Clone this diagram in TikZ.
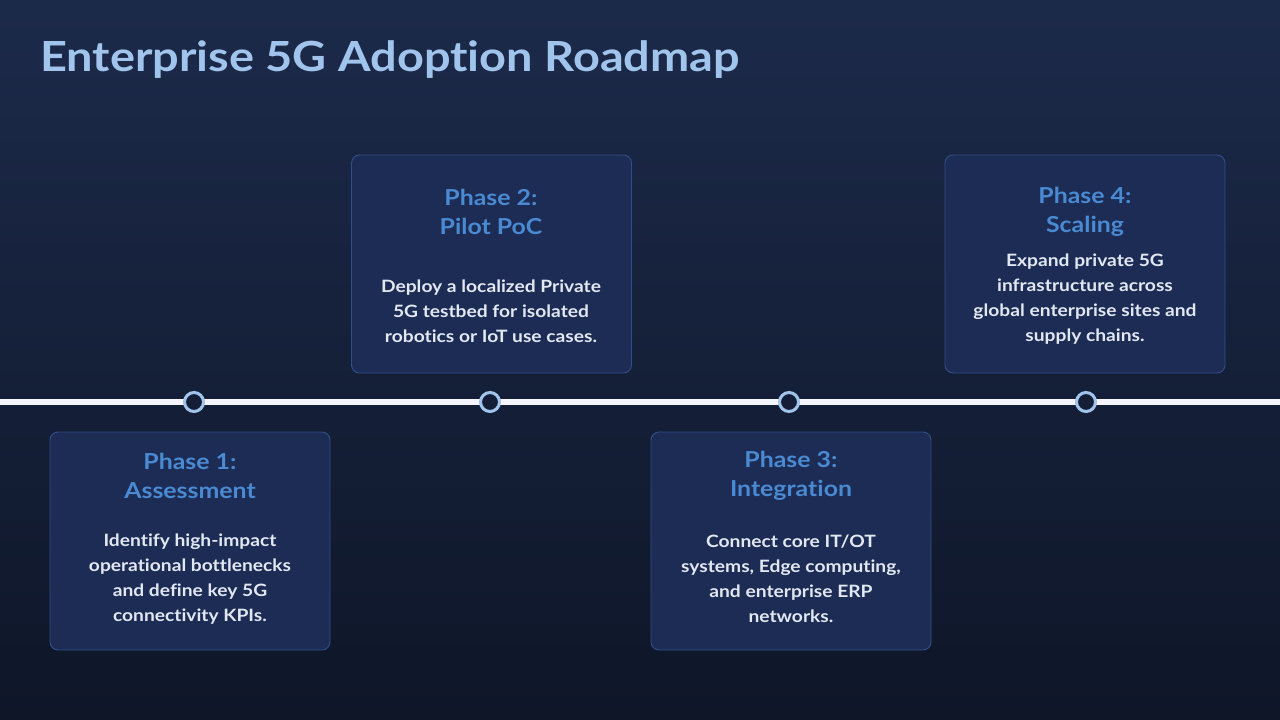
\documentclass[tikz,border=0pt]{standalone}
\usepackage{fontspec}
\setmainfont{Lato}[FakeStretch=1.13,Ligatures=NoCommon]
\usetikzlibrary{positioning}
\definecolor{bgtop}{RGB}{28,42,74}
\definecolor{bgbot}{RGB}{14,22,40}
\definecolor{boxfill}{RGB}{29,44,84}
\definecolor{boxline}{RGB}{50,78,136}
\definecolor{titleblue}{RGB}{160,196,236}
\definecolor{phaseblue}{RGB}{74,138,210}
\definecolor{bodytext}{RGB}{226,232,242}
\definecolor{dotfill}{RGB}{20,30,54}
\tikzset{
  phasebox/.style={draw=boxline, line width=0.9pt, fill=boxfill, rounded corners=8pt,
    minimum width=280pt, minimum height=218pt, inner sep=0pt},
  phasehead/.style={text=phaseblue, align=center, inner sep=0pt,
    font=\fontsize{22}{29}\selectfont\bfseries},
  phasebody/.style={text=bodytext, align=center, inner sep=0pt,
    font=\fontsize{17}{25}\selectfont\bfseries},
  milestone/.style={circle, draw=titleblue, line width=3pt, fill=dotfill,
    minimum size=19pt, inner sep=0pt}
}
\begin{document}
\begin{tikzpicture}[x=1pt,y=-1pt]
\shade[top color=bgtop, bottom color=bgbot] (0,0) rectangle (1280,720);
\useasboundingbox (0,0) rectangle (1280,720);
% title
\node[anchor=base west, inner sep=0pt, text=titleblue,
  font=\fontsize{41.5}{50}\selectfont\bfseries] (title) at (40,71) {Enterprise 5G Adoption Roadmap};
% timeline
\coordinate (tl) at (0,402);
\coordinate (tr) at (1280,402);
\draw[line width=6pt, white!96!blue] (tl) -- (tr);
\foreach \x/\n in {194/1, 490/2, 789/3, 1086/4}
  \node[milestone] (m\n) at (\x,402) {};
% boxes
\node[phasebox] (p1) at (190,541) {};
\node[phasebox] (p2) at (491.5,264) {};
\node[phasebox] (p3) at (791,541) {};
\node[phasebox] (p4) at (1085,264) {};
% texts
\node[phasehead] (h1) at (190,476) {Phase 1:\\Assessment};
\node[phasebody] (b1) at (190,579) {Identify high-impact\\operational bottlenecks\\and define key 5G\\connectivity KPIs.};
\node[phasehead] (h2) at (491,212) {Phase 2:\\Pilot PoC};
\node[phasebody] (b2) at (491,311) {Deploy a localized Private\\5G testbed for isolated\\robotics or IoT use cases.};
\node[phasehead] (h3) at (791,476) {Phase 3:\\Integration};
\node[phasebody] (b3) at (791,579) {Connect core IT/OT\\systems, Edge computing,\\and enterprise ERP\\networks.};
\node[phasehead] (h4) at (1085,212) {Phase 4:\\Scaling};
\node[phasebody] (b4) at (1085,299) {Expand private 5G\\infrastructure across\\global enterprise sites and\\supply chains.};
\end{tikzpicture}
\end{document}
